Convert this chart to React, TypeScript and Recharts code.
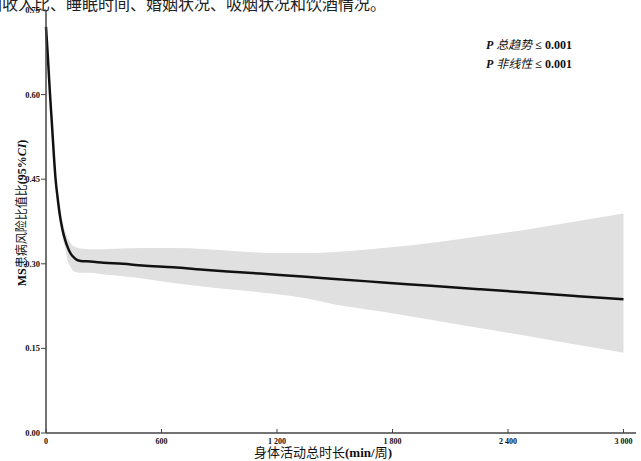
import React from 'react';
import { ComposedChart, Area, Line, XAxis, YAxis } from 'recharts';

const minutes = [0, 10, 20, 30, 40, 50, 60, 73, 86, 99, 112, 125, 140, 160, 180, 230, 300, 400, 500, 660, 836, 1008, 1180, 1350, 1500, 1750, 2000, 2250, 2500, 2750, 3000];
const orValues = [0.72, 0.665, 0.605, 0.552, 0.497, 0.449, 0.418, 0.384, 0.36, 0.343, 0.33, 0.32, 0.313, 0.307, 0.305, 0.304, 0.302, 0.3, 0.297, 0.294, 0.289, 0.285, 0.281, 0.277, 0.273, 0.267, 0.261, 0.255, 0.249, 0.243, 0.237];
const ciUpper = [0.722, 0.668, 0.609, 0.557, 0.503, 0.457, 0.428, 0.396, 0.374, 0.358, 0.346, 0.338, 0.332, 0.329, 0.327, 0.326, 0.326, 0.327, 0.328, 0.328, 0.326, 0.322, 0.319, 0.319, 0.321, 0.328, 0.337, 0.349, 0.361, 0.375, 0.389];
const ciLower = [0.718, 0.662, 0.601, 0.547, 0.491, 0.441, 0.408, 0.372, 0.346, 0.328, 0.306, 0.296, 0.288, 0.285, 0.284, 0.284, 0.281, 0.278, 0.274, 0.266, 0.259, 0.253, 0.247, 0.239, 0.228, 0.215, 0.201, 0.186, 0.172, 0.157, 0.1425];
const xTicks = [0, 600, 1200, 1800, 2400, 3000];
const yTicks = [0, 0.15, 0.3, 0.45, 0.6, 0.75];

const data = minutes.map((m, i) => ({ m, or: orValues[i], ci: [ciLower[i], ciUpper[i]] }));

const serif = '"Liberation Serif", "Noto Sans CJK SC", serif';

const fmtX = (n: number) =>
  n >= 1000 ? `${Math.floor(n / 1000)} ${String(n % 1000).padStart(3, '0')}` : String(n);

export default function App() {
  return (
    <div style={{ position: 'absolute', left: 0, top: 0, width: 641, height: 461, overflow: 'hidden', background: '#fff', fontFamily: serif }}>
      <div style={{ position: 'absolute', left: -14, top: -7, fontSize: 16, lineHeight: '20px', whiteSpace: 'nowrap', color: '#222', fontFamily: '"Noto Sans CJK SC", serif' }}>
        困收入比、睡眠时间、婚姻状况、吸烟状况和饮酒情况。
      </div>
      <ComposedChart width={641} height={461} data={data} margin={{ top: 10, right: 5, bottom: 0, left: 0 }}>
        <XAxis
          dataKey="m"
          type="number"
          domain={[0, 3065]}
          ticks={xTicks}
          tickFormatter={fmtX}
          height={28}
          tickSize={-4}
          tickMargin={9}
          axisLine={{ stroke: '#444', strokeWidth: 1.5 }}
          tickLine={{ stroke: '#444', strokeWidth: 1 }}
          tick={{ fill: '#111', fontSize: 8, fontWeight: 'bold', fontFamily: serif }}
          interval={0}
        />
        <YAxis
          type="number"
          domain={[0, 0.75]}
          ticks={yTicks}
          tickFormatter={(v: number) => v.toFixed(2)}
          width={46}
          tickSize={5}
          tickMargin={1}
          axisLine={{ stroke: '#444', strokeWidth: 1.5 }}
          tickLine={{ stroke: '#444', strokeWidth: 1 }}
          tick={{ fill: '#111', fontSize: 8.5, fontWeight: 'bold', fontFamily: serif }}
          interval={0}
        />
        <Area dataKey="ci" type="monotone" fill="#e0e0e0" fillOpacity={1} stroke="none" isAnimationActive={false} />
        <Line dataKey="or" type="monotone" stroke="#111" strokeWidth={2.5} dot={false} isAnimationActive={false} />
      </ComposedChart>
      <div style={{ position: 'absolute', left: 21, top: 213, transform: 'translate(-50%, -50%) rotate(-90deg)', whiteSpace: 'nowrap', fontSize: 12, color: '#111', fontFamily: serif }}>
        <b>MS</b>患病风险比值比<b>(95%<i>CI</i>)</b>
      </div>
      <div style={{ position: 'absolute', left: 323, top: 451, transform: 'translate(-50%, -50%)', whiteSpace: 'nowrap', fontSize: 13, color: '#111', fontFamily: serif }}>
        身体活动总时长<b>(min/</b>周<b>)</b>
      </div>
      <div style={{ position: 'absolute', left: 486, top: 35.5, whiteSpace: 'nowrap', fontSize: 12, lineHeight: '19px', color: '#111', fontFamily: serif }}>
        <div><b><i>P</i></b> <i>总趋势</i> <b>≤ 0.001</b></div>
        <div><b><i>P</i></b> <i>非线性</i> <b>≤ 0.001</b></div>
      </div>
    </div>
  );
}
